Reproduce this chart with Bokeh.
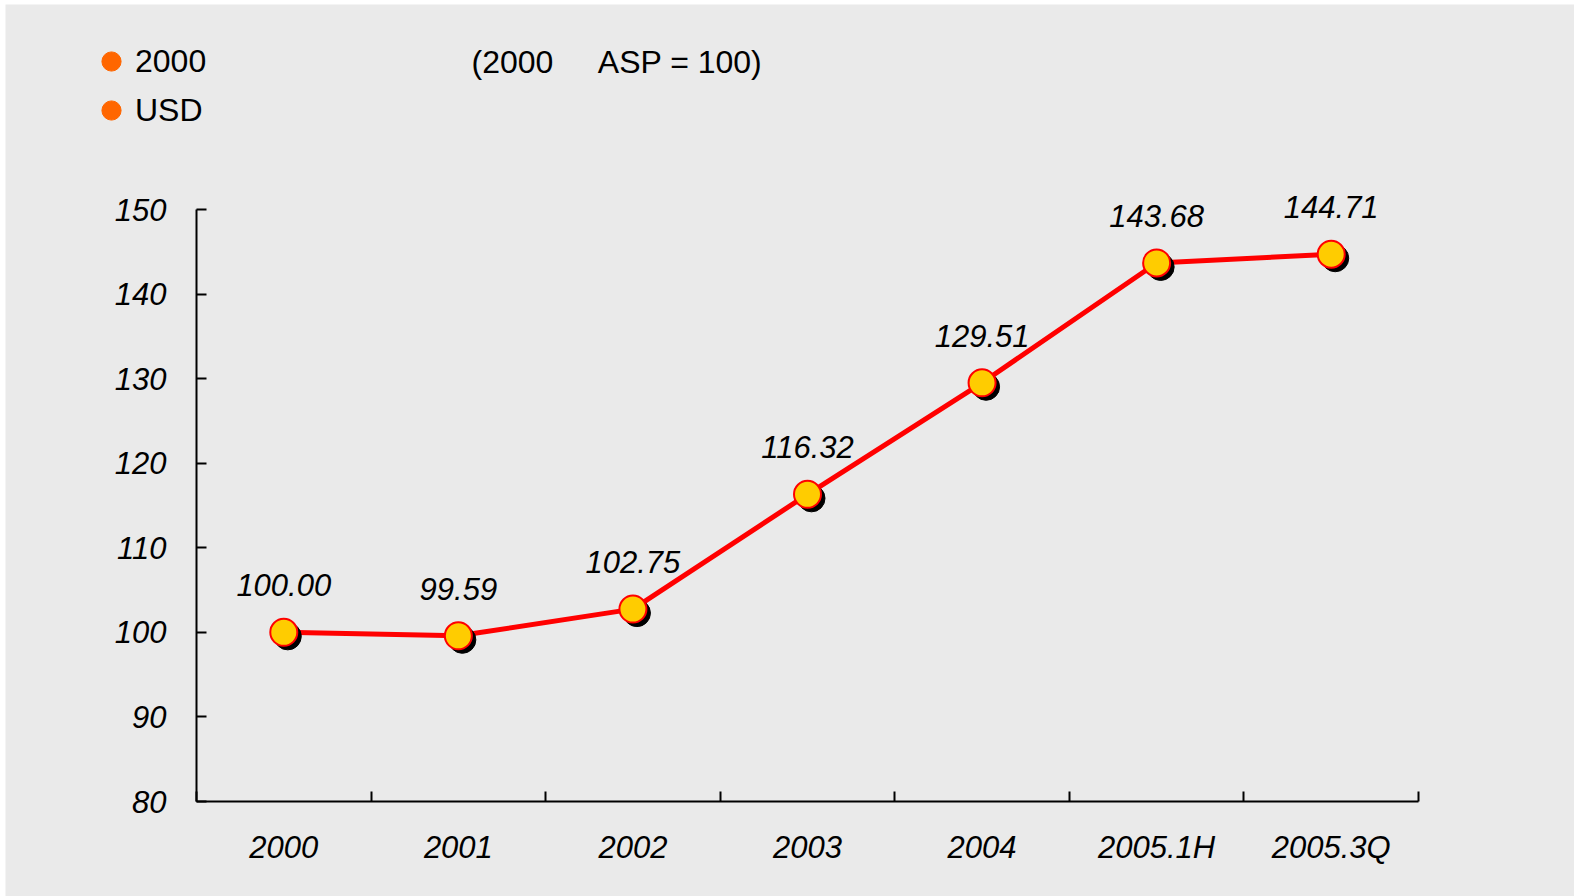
from bokeh.plotting import figure
from bokeh.models import (Range1d, FixedTicker, ColumnDataSource, LabelSet, Label,
                          Legend, LegendItem)
from bokeh.core.properties import value
from bokeh.embed import file_html
from bokeh.resources import INLINE

categories = ["2000", "2001", "2002", "2003", "2004", "2005.1H", "2005.3Q"]
values = [100.00, 99.59, 102.75, 116.32, 129.51, 143.68, 144.71]
y_ticks = [80, 90, 100, 110, 120, 130, 140, 150]
legend_labels = ["2000", "USD"]
note_text = "(2000\u00a0\u00a0\u00a0\u00a0\u00a0ASP = 100)"

FONT = "Liberation Sans"
BG = "#EAEAEA"
W, H = 1574, 896
BL, BT = 5, 4  # thin white strip at left and top
# pixel layout of the axes box inside the canvas
AX_L, AX_R, AX_T, AX_B = 196, 1418, 209, 801

n = len(categories)
xs = [i + 0.5 for i in range(n)]
y0, y1 = y_ticks[0], y_ticks[-1]

px_x = (AX_R - AX_L) / n          # pixels per x unit
px_y = (AX_B - AX_T) / (y1 - y0)  # pixels per y unit
xr = Range1d(-(AX_L - BL) / px_x, n + (W - AX_R) / px_x)
yr = Range1d(y0 - (H - AX_B) / px_y, y1 + (AX_T - BT) / px_y)

p = figure(width=W, height=H, x_range=xr, y_range=yr,
           output_backend="svg", toolbar_location=None,
           min_border_left=BL, min_border_right=0, min_border_top=BT, min_border_bottom=0)
p.background_fill_color = BG
p.border_fill_color = "white"
p.outline_line_color = None
p.grid.visible = False

# x axis: labels at category centres, ticks at category boundaries
xa = p.xaxis[0]
xa.fixed_location = y0
xa.bounds = (0, n)
xa.ticker = FixedTicker(ticks=xs, minor_ticks=list(range(n + 1)))
xa.major_label_overrides = {x: c for x, c in zip(xs, categories)}
xa.major_tick_in = 0
xa.major_tick_out = 0
xa.minor_tick_in = 10
xa.minor_tick_out = 0
xa.minor_tick_line_color = "black"
xa.minor_tick_line_width = 2
xa.axis_line_width = 2
xa.axis_line_color = "black"
xa.major_label_text_font = FONT
xa.major_label_text_font_size = "31px"
xa.major_label_text_font_style = "italic"
xa.major_label_text_color = "black"
xa.major_label_standoff = 28

ya = p.yaxis[0]
ya.fixed_location = 0
ya.bounds = (y0, y1)
ya.ticker = FixedTicker(ticks=y_ticks, minor_ticks=[])
ya.major_tick_in = 10
ya.major_tick_out = 0
ya.major_tick_line_width = 2
ya.major_tick_line_color = "black"
ya.axis_line_width = 2
ya.axis_line_color = "black"
ya.major_label_text_font = FONT
ya.major_label_text_font_size = "31px"
ya.major_label_text_font_style = "italic"
ya.major_label_text_color = "black"
ya.major_label_standoff = 30

# shadow offset of 4px right/down, converted to data units
dx = 4 / px_x
dy = -4 / px_y

src = ColumnDataSource(dict(x=xs, y=values,
                            xs=[x + dx for x in xs], ys=[v + dy for v in values],
                            lab=["%.2f" % v for v in values]))

p.line("x", "y", source=src, line_color="#FF0000", line_width=5)
p.scatter("xs", "ys", source=src, size=27, fill_color="black", line_color="black")
p.scatter("x", "y", source=src, size=27, fill_color="#FFCC00", line_color="#FF0000", line_width=2)

labels = LabelSet(x="x", y="y", text="lab", source=src, y_offset=47,
                  text_align="center", text_baseline="middle",
                  text_font=value(FONT), text_font_size=value("31px"),
                  text_font_style="italic", text_color="black")
p.add_layout(labels)

# legend bullets (renderer holds no visible point; only its legend swatch shows)
nan = float("nan")
leg_src = ColumnDataSource(dict(x=[nan], y=[nan]))
r_leg = p.scatter("x", "y", source=leg_src, size=19, fill_color="#FF6600", line_color="#FF6600")
legend = Legend(items=[LegendItem(label=t, renderers=[r_leg], index=0) for t in legend_labels],
                location=(87 - BL, H - 134), orientation="vertical",
                label_text_font=FONT, label_text_font_size="32px", label_text_color="black",
                glyph_width=48, glyph_height=48, label_standoff=0, spacing=1,
                padding=0, margin=0, background_fill_alpha=0, border_line_color=None)
p.add_layout(legend)

note = Label(x=(471 - AX_L) / px_x, y=y1 + (AX_T - 61) / px_y,
             text=note_text, text_align="left", text_baseline="middle",
             text_font=FONT, text_font_size="32px", text_color="black")
p.add_layout(note)

open("out.html", "w").write(file_html(p, INLINE))
